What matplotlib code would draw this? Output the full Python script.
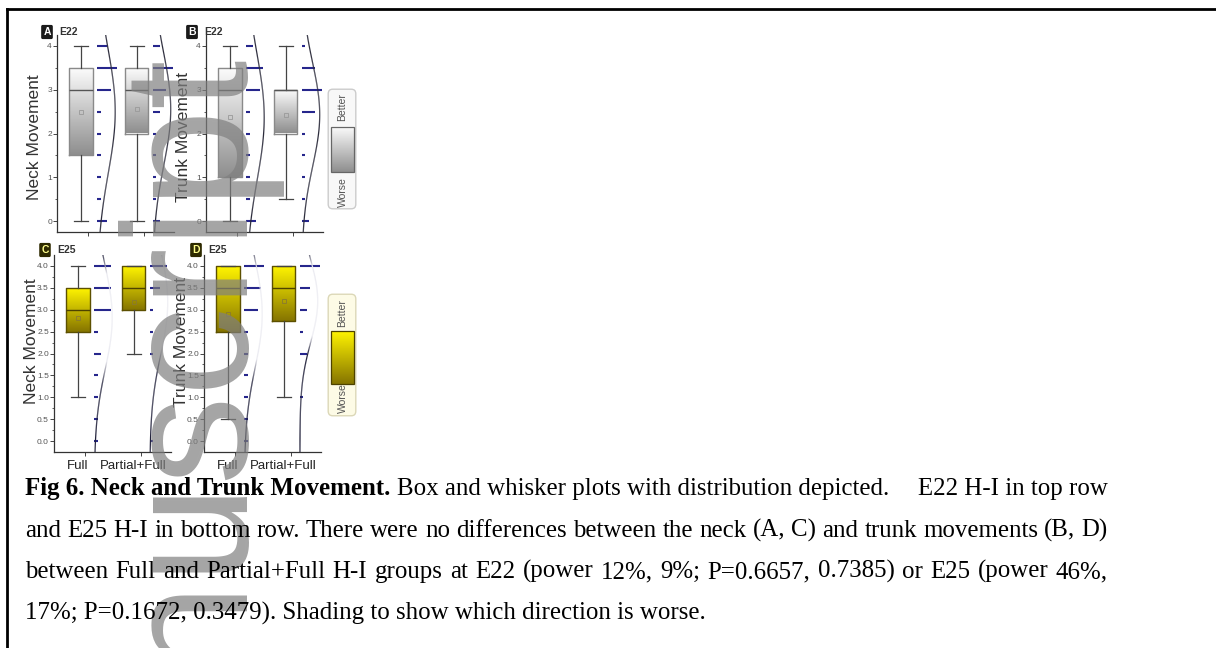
import numpy as np
import matplotlib.pyplot as plt
from matplotlib.colors import LinearSegmentedColormap, to_rgb
from matplotlib.collections import LineCollection
from matplotlib.patches import FancyBboxPatch
from matplotlib.lines import Line2D

plt.rcParams['font.family'] = ['Liberation Sans', 'DejaVu Sans']

W, H = 1216, 648

levels = [0, 0.5, 1, 1.5, 2, 2.5, 3, 3.5, 4]
groups = ['Full', 'Partial+Full']

# number of animals at each score (0 .. 4 step 0.5)
neck_e22_full = [3, 1, 1, 1, 1, 1, 4, 6, 3]
neck_e22_pf = [2, 1, 1, 1, 1, 2, 4, 6, 2]
trunk_e22_full = [3, 1, 1, 1, 1, 1, 4, 5, 2]
trunk_e22_pf = [2, 1, 1, 1, 1, 4, 6, 4, 1]
neck_e25_full = [1, 1, 1, 1, 2, 1, 5, 5, 5]
neck_e25_pf = [1, 0, 0, 0, 1, 1, 1, 3, 5]
trunk_e25_full = [1, 1, 1, 1, 1, 1, 4, 5, 6]
trunk_e25_pf = [0, 0, 1, 0, 2, 1, 2, 3, 6]

# box: whisker low, q1, median, q3, whisker high
neck_e22_box = [[0, 1.5, 3, 3.5, 4], [0, 2, 3, 3.5, 4]]
trunk_e22_box = [[0, 1, 3, 3.5, 4], [0.5, 2, 3, 3, 4]]
neck_e25_box = [[1, 2.5, 3, 3.5, 4], [2, 3, 3.5, 4, 4]]
trunk_e25_box = [[0.5, 2.5, 3.5, 4, 4], [1, 2.75, 3.5, 4, 4]]

def fx(px):
    return px / W

def fy(py):
    return 1 - py / H

grey_cm = LinearSegmentedColormap.from_list('g', ['#8e8e8e', '#fdfdfd'])
yell_cm = LinearSegmentedColormap.from_list('y', ['#857400', '#fff400'])
grad = np.linspace(0, 1, 256).reshape(-1, 1)

fig = plt.figure(figsize=(W / 100, H / 100), dpi=100)
fig.patch.set_facecolor('white')

def panel(g1px, top, counts, boxes, ylab, e25, xlabels):
    u = 55.5
    left = g1px - 0.55 * u
    ax = fig.add_axes([fx(left), fy(top + 197), 2.1 * u / W, 197 / H])
    cm = yell_cm if e25 else grey_cm
    edge = '#5c5000' if e25 else '#8a8a8a'
    med_c = '#4d4200' if e25 else '#555555'
    mean_c = '#8a7a30' if e25 else '#999999'
    off = -0.125
    bw = 0.43
    stats = []
    for i, (b, c) in enumerate(zip(boxes, counts)):
        pos = i + 1 + off
        vals = np.repeat(levels, c)
        m = vals.mean()
        s = vals.std(ddof=1)
        stats.append(dict(whislo=b[0], q1=b[1], med=b[2], q3=b[3], whishi=b[4], mean=m, fliers=[]))
        ax.imshow(grad, extent=(pos - bw / 2, pos + bw / 2, b[1], b[3]), origin='lower',
                  aspect='auto', cmap=cm, zorder=2)
        base = i + 1 + 0.17
        ax.hlines(levels, base, base + np.array(c) * 0.06, color='#26268c', lw=1.5, zorder=3)
        yy = np.linspace(-0.3, 4.3, 200)
        d = np.exp(-(yy - m) ** 2 / (2 * s ** 2))
        xx = base + 0.32 * d
        pts = np.column_stack([xx, yy]).reshape(-1, 1, 2)
        segs = np.concatenate([pts[:-1], pts[1:]], axis=1)
        if e25:
            dm = (d[:-1] + d[1:]) / 2
            t = np.clip((dm - 0.45) / 0.25, 0, 1)[:, None]
            cols = (1 - t) * np.array(to_rgb('#20203a')) + t * np.array(to_rgb('#ececf2'))
        else:
            cols = '#2a2a3a'
        ax.add_collection(LineCollection(segs, colors=cols, lw=0.9, zorder=3))
    ax.bxp(stats, positions=[1 + off, 2 + off], widths=bw, capwidths=0.25, showmeans=True,
           showfliers=False,
           boxprops=dict(color=edge, lw=1.0),
           whiskerprops=dict(color='#444444', lw=0.9),
           capprops=dict(color='#444444', lw=0.9),
           medianprops=dict(color=med_c, lw=1.0),
           meanprops=dict(marker='s', markersize=2.5, markerfacecolor='none',
                          markeredgecolor=mean_c, markeredgewidth=0.6),
           manage_ticks=False, zorder=4)
    ax.set_xlim(0.45, 2.55)
    ax.set_ylim(-0.25, 4.25)
    for sp in ['top', 'right']:
        ax.spines[sp].set_visible(False)
    for sp in ['left', 'bottom']:
        ax.spines[sp].set_color('#333333')
        ax.spines[sp].set_linewidth(0.9)
    if e25:
        ax.set_yticks(np.arange(0, 4.01, 0.5))
        ax.set_yticklabels(['%.1f' % v for v in np.arange(0, 4.01, 0.5)])
        ax.set_yticks(np.arange(0, 4.01, 0.25), minor=True)
    else:
        ax.set_yticks(np.arange(0, 4.01, 1))
        ax.set_yticklabels(['%d' % v for v in np.arange(0, 4.01, 1)])
        ax.set_yticks(np.arange(0, 4.01, 0.5), minor=True)
    ax.tick_params(axis='y', which='major', length=3, width=0.7, color='#444444',
                   labelsize=6, labelcolor='#555555', pad=1)
    ax.tick_params(axis='y', which='minor', length=1.5, width=0.6, color='#444444')
    ax.set_xticks([1, 2])
    ax.set_xticklabels(['', ''])
    ax.set_xticks([1 + off, 2 + off], minor=True)
    ax.set_xticklabels(xlabels, minor=True, family=['Liberation Sans Narrow', 'Liberation Sans'],
                       fontsize=9.5, color='#222222')
    ax.tick_params(axis='x', which='major', length=3, width=0.7, color='#444444')
    ax.tick_params(axis='x', which='minor', length=0, pad=6)
    ax.set_ylabel(ylab, fontsize=12.5, color='#333333')
    ax.set_facecolor('none')
    return ax

axA = panel(88, 35, [neck_e22_full, neck_e22_pf], neck_e22_box, 'Neck Movement', False, ['', ''])
axB = panel(237, 35, [trunk_e22_full, trunk_e22_pf], trunk_e22_box, 'Trunk Movement', False, ['', ''])
axC = panel(85, 255, [neck_e25_full, neck_e25_pf], neck_e25_box, 'Neck Movement', True, groups)
axD = panel(235, 255, [trunk_e25_full, trunk_e25_pf], trunk_e25_box, 'Trunk Movement', True, groups)
axA.yaxis.set_label_coords(-0.13, 0.48)
axB.yaxis.set_label_coords(-0.13, 0.48)
axC.yaxis.set_label_coords(-0.13, 0.56)
axD.yaxis.set_label_coords(-0.13, 0.56)

# panel letters
for lab, px, py, e25, tag in [('A', 47, 32, False, 'E22'), ('B', 192, 32, False, 'E22'),
                              ('C', 45, 250, True, 'E25'), ('D', 196, 250, True, 'E25')]:
    fc = '#2e2a00' if e25 else '#1a1a1a'
    tc = '#ffff8c' if e25 else 'white'
    fig.text(fx(px), fy(py), lab, ha='center', va='center', fontsize=7.5, weight='bold', color=tc,
             bbox=dict(boxstyle='round,pad=0.2,rounding_size=0.15', fc=fc, ec='none'))
    fig.text(fx(px + 12), fy(py), tag, ha='left', va='center', fontsize=7.5, weight='bold',
             color='#333333')

# shading legends
def shade_legend(top, bottom, rect, e25):
    lx = fig.add_axes([fx(327), fy(bottom), 30 / W, (bottom - top) / H])
    lx.set_xlim(0, 1)
    lx.set_ylim(0, 1)
    lx.axis('off')
    fc = '#fdfbe6' if e25 else '#f8f8f8'
    ec = '#dcd8b8' if e25 else '#cccccc'
    lx.add_patch(FancyBboxPatch((0.04, 0.01), 0.92, 0.98, boxstyle='round,pad=0,rounding_size=0.15',
                                fc=fc, ec=ec, lw=1.0, transform=lx.transAxes, mutation_aspect=0.25))
    lx.imshow(grad, extent=(0.13, 0.9, rect[0], rect[1]), origin='lower', aspect='auto',
              cmap=yell_cm if e25 else grey_cm, zorder=2)
    lx.add_patch(plt.Rectangle((0.13, rect[0]), 0.77, rect[1] - rect[0], fill=False,
                               ec='#4d4200' if e25 else '#666666', lw=0.9, zorder=3))
    lx.text(0.52, 0.84, 'Better', rotation=90, ha='center', va='center', fontsize=7.5, color='#555555')
    lx.text(0.52, 0.15, 'Worse', rotation=90, ha='center', va='center', fontsize=7.5, color='#555555')

shade_legend(88, 210, (0.31, 0.68), False)
shade_legend(293, 417, (0.27, 0.69), True)

# watermark
fig.text(fx(248), fy(60), 'Author Manuscript', rotation=90, rotation_mode='anchor', ha='right',
         va='baseline', fontsize=128, color='#7f7f7f', alpha=0.7, zorder=1)

# caption
r = fig.canvas.get_renderer()
serif = 'Liberation Serif'
head = 'Fig 6. Neck and Trunk Movement.'
rest1 = 'Box and whisker plots with distribution depicted.'
last = '17%; P=0.1672, 0.3479). Shading to show which direction is worse.'

def natural(s, size, **kw):
    p = fig.text(0, 0, s, fontsize=size, family=serif, **kw)
    w = p.get_window_extent(r).width
    p.remove()
    return w

w_last = natural(last, 14)
w_l1 = natural(head, 14, weight='bold') + natural(rest1, 14) + 0.25 * 14 * 100 / 72
cs = 14 * min(703 / w_last, 866 / w_l1)
sp = 0.25 * cs * 100 / 72

def put(x, y, s, **kw):
    t = fig.text(fx(x), fy(y), s, fontsize=cs, family=serif, va='baseline', color='black', zorder=5, **kw)
    return t

t1 = put(25, 495, head, weight='bold')
w1 = t1.get_window_extent(r).width
put(25 + w1 + sp, 495, rest1)
put(1108, 495, 'E22 H-I in top row', ha='right')

def justify(y, s):
    words = s.split(' ')
    ts = [put(0, y, w) for w in words]
    ws = [t.get_window_extent(r).width for t in ts]
    gap = (1108 - 25 - sum(ws)) / (len(ws) - 1)
    x = 25
    for t, w in zip(ts, ws):
        t.set_x(fx(x))
        x += w + gap

justify(537, 'and E25 H-I in bottom row. There were no differences between the neck (A, C) and trunk movements (B, D)')
justify(578, 'between Full and Partial+Full H-I groups at E22 (power 12%, 9%; P=0.6657, 0.7385) or E25 (power 46%,')
put(25, 620, last)

# page frame
fig.add_artist(Line2D([fx(7), fx(1216)], [fy(9), fy(9)], color='black', lw=2))
fig.add_artist(Line2D([fx(7), fx(7)], [fy(9), fy(648)], color='black', lw=2))

fig.savefig('out.png', dpi=100)
